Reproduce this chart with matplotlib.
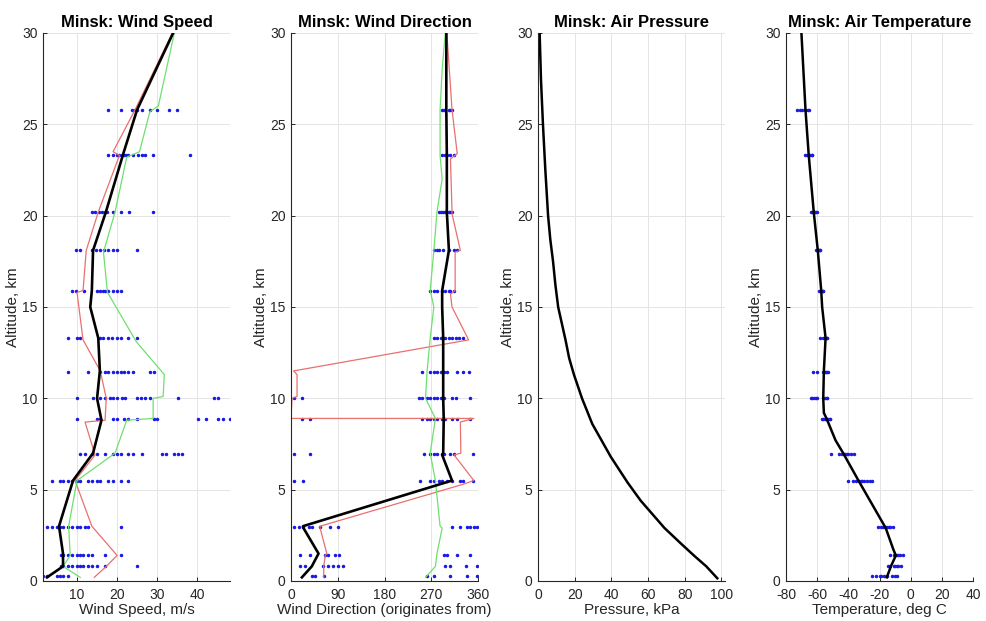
import matplotlib
matplotlib.use("Agg")
import matplotlib.pyplot as plt

plt.rcParams['font.family'] = ['Liberation Sans', 'DejaVu Sans']
plt.rcParams['axes.unicode_minus'] = False

# altitude of each sounding level where the raw points sit (km)
lvl_alt = [0.25, 0.8, 1.45, 2.95, 5.45, 6.95, 8.85, 10.0, 11.45, 13.3, 15.85, 18.1, 20.2, 23.3, 25.8]

# --- wind speed, m/s ---
ws_dots = [
    [1.6, 2.4, 4.9, 5.75, 6.6, 7.8],
    [6.0, 6.6, 7.8, 8.7, 10.0, 10.75, 11.5, 12.8, 13.7, 14.9, 17.0, 24.9],
    [6.0, 6.6, 7.8, 8.7, 10.0, 10.75, 11.5, 12.8, 13.7, 17.0, 20.9],
    [2.6, 3.7, 4.9, 5.75, 6.6, 7.8, 8.7, 10.0, 10.75, 12.0, 12.8, 20.9],
    [3.7, 5.75, 6.6, 7.8, 8.7, 10.0, 10.75, 12.8, 13.7, 14.9, 15.75, 17.8, 19.1, 20.9, 22.8],
    [10.75, 12.0, 13.7, 14.9, 17.0, 19.1, 19.9, 20.9, 22.8, 24.1, 26.2, 31.2, 32.2, 34.1, 35.3, 36.2],
    [10.0, 14.9, 15.75, 18.9, 19.9, 21.7, 22.8, 24.9, 29.1, 29.9, 40.3, 42.2, 45.3, 46.4, 48.2],
    [10.0, 13.9, 15.75, 17.0, 18.25, 19.1, 19.9, 21.2, 22.0, 24.9, 25.9, 27.0, 28.1, 35.1, 44.1, 45.3],
    [7.8, 12.8, 15.75, 17.0, 17.8, 19.1, 19.9, 20.9, 21.7, 22.8, 24.1, 28.1, 29.1],
    [7.8, 9.9, 10.75, 15.75, 16.6, 17.8, 18.7, 19.9, 20.9, 22.8, 24.9],
    [8.7, 9.8, 11.75, 14.9, 15.75, 16.6, 17.0, 17.8, 18.9, 19.9, 20.9],
    [9.8, 10.75, 13.7, 14.75, 15.75, 16.75, 17.8, 18.9, 19.9, 24.9],
    [13.7, 14.6, 15.4, 16.2, 17.0, 17.6, 18.9, 20.9, 23.1, 28.9],
    [17.8, 18.9, 19.9, 20.6, 21.2, 21.7, 22.2, 22.8, 23.9, 25.1, 26.2, 27.0, 28.9, 38.1],
    [17.8, 21.0, 23.8, 24.5, 25.0, 26.2, 28.2, 30.0, 33.0, 35.0],
]
ws_mean_alt = [0.2, 0.8, 1.5, 3.0, 5.5, 7.0, 8.8, 10.0, 11.5, 13.3, 15.0, 15.9, 18.1, 20.2, 23.5, 25.8, 30.0]
ws_mean = [2.5, 6.5, 6.5, 5.5, 9.0, 14.0, 16.1, 15.0, 15.7, 15.3, 13.3, 13.7, 14.0, 17.2, 21.7, 25.0, 34.0]
ws_red_alt = [0.2, 0.8, 1.4, 3.0, 5.5, 6.9, 8.7, 8.8, 10.0, 11.5, 13.2, 15.8, 15.9, 18.1, 20.2, 23.3, 23.5, 25.8, 30.0]
ws_red = [14.3, 17.3, 20.0, 13.7, 9.5, 14.5, 12.0, 17.0, 17.3, 15.8, 11.5, 10.0, 11.5, 12.3, 15.3, 20.6, 19.0, 24.5, 33.8]
ws_grn_alt = [0.2, 0.8, 1.4, 3.0, 5.5, 7.0, 8.8, 8.9, 10.0, 10.1, 11.3, 13.1, 15.8, 18.0, 20.2, 23.2, 23.5, 25.7, 26.0, 30.0]
ws_grn = [10.8, 6.5, 8.3, 7.9, 10.0, 19.5, 22.4, 29.0, 29.0, 31.5, 31.8, 24.8, 17.6, 16.6, 19.5, 22.4, 25.6, 28.2, 30.3, 34.3]

# --- wind direction, degrees ---
wd_dots = [
    [40, 47, 63, 261, 275, 307, 339, 358],
    [17, 26, 62, 71, 81, 90, 100, 297, 307, 336, 358],
    [17, 36, 66, 72, 85, 92, 294, 300, 320, 345],
    [5, 15, 24, 34, 40, 56, 76, 90, 310, 326, 339, 345, 352, 358],
    [5, 24, 249, 268, 275, 284, 291, 300, 310, 326, 332, 350],
    [5, 36, 256, 268, 275, 281, 291, 294, 307, 314, 350],
    [21, 36, 252, 262, 268, 275, 281, 291, 297, 310, 320, 345],
    [5, 21, 246, 252, 262, 268, 275, 281, 288, 294, 310, 317, 344],
    [252, 268, 276, 281, 288, 294, 300, 320, 332, 342],
    [275, 281, 288, 293, 297, 304, 310, 317, 323, 332],
    [268, 275, 281, 291, 297, 304, 307, 313],
    [275, 281, 284, 293, 304, 313, 320],
    [284, 288, 293, 297, 304, 307, 310],
    [291, 297, 300, 307, 313],
    [291, 294, 297, 304, 307, 310],
]
wd_mean_alt = [0.2, 0.8, 1.5, 2.9, 3.0, 5.5, 6.9, 7.0, 8.9, 10.0, 11.5, 13.3, 15.0, 15.9, 18.1, 20.2, 23.3, 25.8, 30.0]
wd_mean = [21, 40, 53, 24, 23, 310, 291, 293, 294, 293, 293, 293, 291, 291, 304, 300, 300, 299, 299]
wd_red_alt = [0.2, 0.8, 1.4, 1.5, 2.9, 3.0, 5.3, 5.5, 6.9, 7.0, 8.7, 8.9, 8.9, 10.0, 10.1, 11.3, 11.5, 13.2, 15.0,
              15.7, 15.9, 18.0, 18.1, 20.1, 20.2, 23.1, 23.4, 25.8, 30.0]
wd_red = [63, 63, 66, 69, 56, 56, 332, 352, 314, 327, 326, 352, 0, 2, 11.6, 11.6, 5, 342, 310,
          307, 316, 316, 326, 310, 310, 307, 320, 310, 300]
wd_grn_alt = [0.2, 0.8, 1.5, 2.9, 3.0, 5.5, 7.0, 8.9, 10.0, 11.5, 13.3, 15.0, 15.9, 18.1, 20.2, 22.0, 23.3, 25.8, 28.0, 30.0]
wd_grn = [259, 278, 281, 291, 287, 278, 268, 278, 259, 262, 268, 275, 268, 275, 281, 291, 287, 287, 291, 297]

# --- air pressure, kPa ---
p_alt = [0.15, 0.8, 1.4, 2.0, 2.9, 4.4, 5.4, 6.8, 8.6, 10.0, 11.3, 12.2, 13.2, 14.1, 15.0, 16.2, 17.5, 18.7,
         20.0, 22.5, 25.0, 27.5, 30.0]
p_kpa = [97.8, 91.8, 85.0, 78.5, 69.0, 56.0, 48.8, 39.7, 29.6, 24.0, 19.6, 17.0, 15.0, 13.0, 11.0, 9.5, 8.2, 6.7,
         5.5, 4.0, 2.7, 1.6, 0.9]

# --- air temperature, deg C ---
t_dots = [
    [-24.5, -22, -20, -19, -17, -15, -12, -10, -8.5],
    [-14.5, -13, -11, -10, -9, -8, -6.5],
    [-13, -11, -10, -9, -8, -7, -5],
    [-21, -19, -18, -16.5, -15.5, -14, -13, -11.5],
    [-40.5, -37, -35, -33, -32, -31, -30, -28, -26, -24.5],
    [-51, -46, -44, -43, -42, -41, -40, -38, -36.5],
    [-57, -56, -55, -54.5, -54, -53, -52, -51.5],
    [-64, -63, -62, -61, -60, -56, -55, -54, -53.5],
    [-62.5, -60, -56, -55, -54.5, -54, -53],
    [-58, -56, -55, -54.5, -54, -53.5],
    [-59, -58, -57.5, -57, -56.5, -56],
    [-60.5, -60, -59.5, -59, -58.5, -58],
    [-64, -63, -62, -61.5, -61, -60],
    [-67.5, -66.5, -65.5, -64.5, -63.5, -63],
    [-73, -71, -69.5, -68, -67, -66, -65],
]
t_alt = [0.2, 0.8, 1.4, 1.7, 2.9, 5.5, 7.0, 7.7, 8.9, 9.2, 10.0, 11.5, 13.3, 15.0, 15.9, 18.1, 20.2, 23.3, 25.8, 30.0]
t_mean = [-15.3, -12.7, -9.5, -11.0, -16.0, -33.5, -43.3, -48.2, -54.0, -55.7, -56.1, -55.7, -54.6, -56.8, -57.4,
          -59.6, -62.2, -65.4, -67.5, -70.1]

titles = ["Minsk: Wind Speed", "Minsk: Wind Direction", "Minsk: Air Pressure", "Minsk: Air Temperature"]
xlabels = ["Wind Speed, m/s", "Wind Direction (originates from)", "Pressure, kPa", "Temperature, deg C"]
lefts = [43, 291, 538, 786]

fig = plt.figure(figsize=(9.86, 6.21), dpi=100)
axes = []
for left in lefts:
    axes.append(fig.add_axes([left / 986, 40 / 621, 187 / 986, 548 / 621]))

red = '#e8706e'
grn = '#6ee06e'
blue = '#1a1ae6'


def dots(ax, rows):
    for alt, row in zip(lvl_alt, rows):
        ax.plot(row, [alt] * len(row), linestyle='none', marker='.', markersize=3, color=blue)


ax = axes[0]
dots(ax, ws_dots)
ax.plot(ws_red, ws_red_alt, color=red, lw=0.9)
ax.plot(ws_grn, ws_grn_alt, color=grn, lw=0.9)
ax.plot(ws_mean, ws_mean_alt, color='black', lw=1.9)
ax.set_xlim(1.5, 48.2)
ax.set_xticks([10, 20, 30, 40])

ax = axes[1]
dots(ax, wd_dots)
ax.plot(wd_red, wd_red_alt, color=red, lw=0.9)
ax.plot(wd_grn, wd_grn_alt, color=grn, lw=0.9)
ax.plot(wd_mean, wd_mean_alt, color='black', lw=1.9)
ax.set_xlim(0, 360)
ax.set_xticks([0, 90, 180, 270, 360])

ax = axes[2]
ax.plot(p_kpa, p_alt, color='black', lw=1.8)
ax.set_xlim(0, 102)
ax.set_xticks([0, 20, 40, 60, 80, 100])

ax = axes[3]
dots(ax, t_dots)
ax.plot(t_mean, t_alt, color='black', lw=1.8)
ax.set_xlim(-80, 40)
ax.set_xticks([-80, -60, -40, -20, 0, 20, 40])

for ax, title, xl in zip(axes, titles, xlabels):
    ax.set_ylim(0, 30)
    ax.set_yticks([0, 5, 10, 15, 20, 25, 30])
    ax.set_title(title, fontsize=12, fontweight='bold', pad=4)
    ax.set_xlabel(xl, fontsize=11, color='#262626', labelpad=1)
    ax.set_ylabel("Altitude, km", fontsize=11, color='#262626', labelpad=1)
    ax.grid(True, color='#e4e4e4', lw=0.7)
    ax.set_axisbelow(True)
    ax.spines['top'].set_visible(False)
    ax.spines['right'].set_visible(False)
    for s in ['left', 'bottom']:
        ax.spines[s].set_color('#262626')
        ax.spines[s].set_linewidth(0.8)
    ax.tick_params(direction='in', length=3, width=0.7, labelsize=10, colors='#262626')
    ax.tick_params(axis='x', pad=5)
    ax.tick_params(axis='y', pad=4)

fig.savefig("out.png", dpi=100)
